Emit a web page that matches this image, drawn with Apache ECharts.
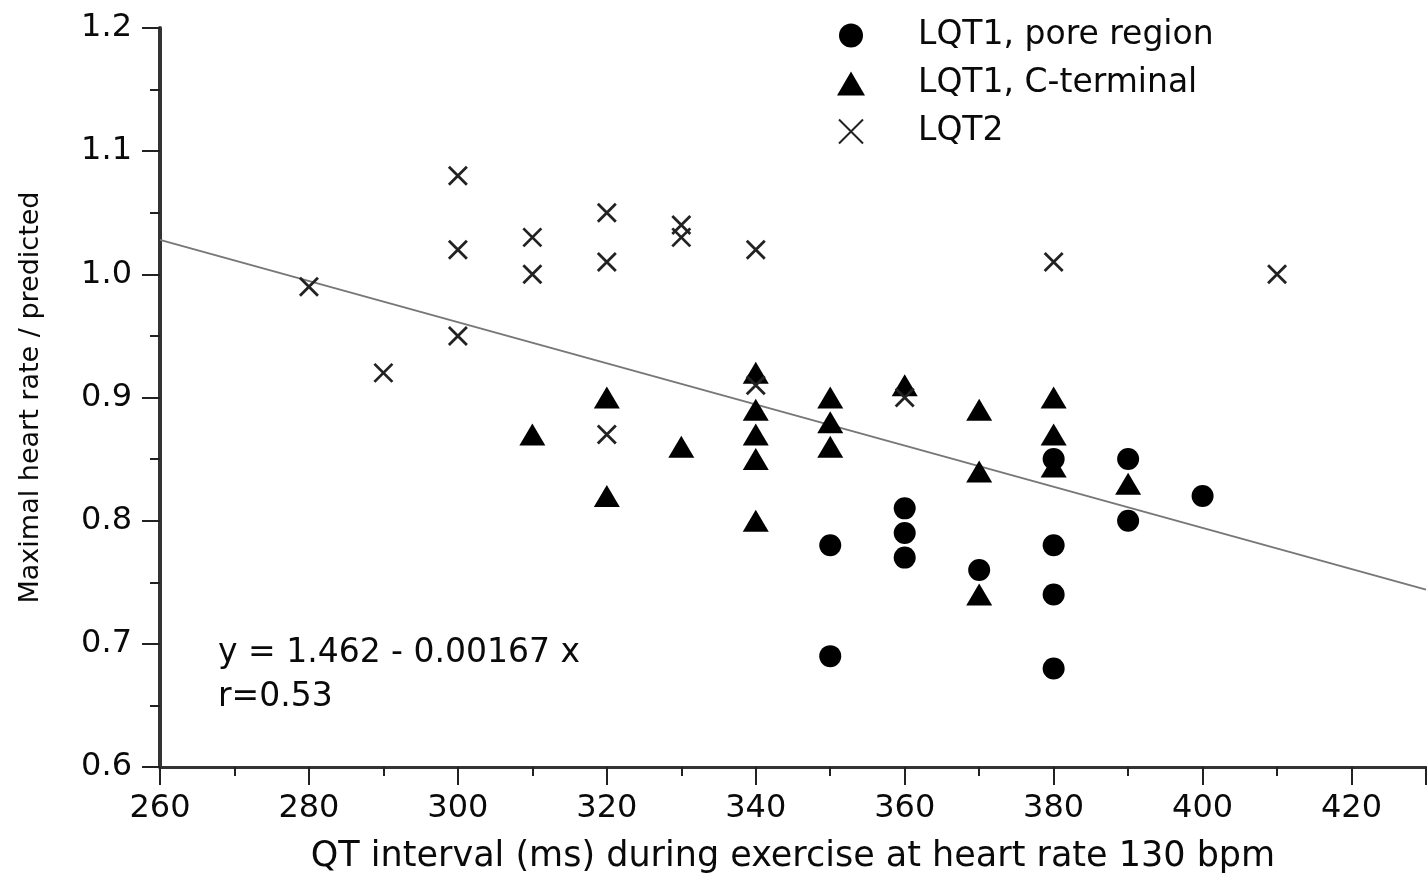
<!DOCTYPE html>
<html>
<head>
<meta charset="utf-8">
<script src="https://cdn.jsdelivr.net/npm/echarts@6/dist/echarts.min.js"></script>
<style>
html,body{margin:0;padding:0;background:#fff;}
#chart{width:1427px;height:879px;}
</style>
</head>
<body>
<div id="chart"></div>
<script>
// ---- data ----
const poreRegion = [
  [350, 0.78], [350, 0.69],
  [360, 0.81], [360, 0.79], [360, 0.77],
  [370, 0.76],
  [380, 0.85], [380, 0.78], [380, 0.74], [380, 0.68],
  [390, 0.85], [390, 0.80],
  [400, 0.82]
];
const cTerminal = [
  [310, 0.87],
  [320, 0.90], [320, 0.82],
  [330, 0.86],
  [340, 0.92], [340, 0.89], [340, 0.87], [340, 0.85], [340, 0.80],
  [350, 0.90], [350, 0.88], [350, 0.86],
  [360, 0.91],
  [370, 0.89], [370, 0.84], [370, 0.74],
  [380, 0.90], [380, 0.87], [380, 0.844],
  [390, 0.83]
];
const lqt2 = [
  [280, 0.99], [290, 0.92],
  [300, 1.08], [300, 1.02], [300, 0.95],
  [310, 1.03], [310, 1.00],
  [320, 1.05], [320, 1.01], [320, 0.87],
  [330, 1.04], [330, 1.03],
  [340, 1.02], [340, 0.91],
  [360, 0.90],
  [380, 1.01],
  [410, 1.00]
];
const fitLine = [[260, 1.028], [430, 0.744]];
const seriesNames = ['LQT1, pore region', 'LQT1, C-terminal', 'LQT2'];
const xTitle = 'QT interval (ms) during exercise at heart rate 130 bpm';
const yTitle = 'Maximal heart rate / predicted';
const equationText = 'y = 1.462 - 0.00167 x';
const rText = 'r=0.53';

const FONT = 'DejaVu Sans';
const INK = '#0a0a0a';
const chart = echarts.init(document.getElementById('chart'), null, {renderer: 'canvas'});

const xPath = 'path://M0,0L10,10M10,0L0,10';

chart.setOption({
  backgroundColor: '#fff',
  animation: false,
  grid: {left: 160, right: 1, top: 28, bottom: 112, containLabel: false},
  xAxis: {
    type: 'value', min: 260, max: 430, interval: 20,
    name: xTitle, nameLocation: 'middle', nameGap: 72,
    nameTextStyle: {fontFamily: FONT, fontSize: 35, color: INK},
    axisLine: {show: true, onZero: false, lineStyle: {color: '#333', width: 3}},
    axisTick: {show: true, inside: false, length: 18, lineStyle: {color: '#222', width: 2}},
    minorTick: {show: true, splitNumber: 2, length: 9, lineStyle: {color: '#222', width: 2}},
    axisLabel: {fontFamily: FONT, fontSize: 32, color: INK, margin: 26, showMaxLabel: false,
      formatter: v => (v > 420 ? '' : String(v))},
    splitLine: {show: false}, minorSplitLine: {show: false}
  },
  yAxis: {
    type: 'value', min: 0.6, max: 1.2, interval: 0.1,
    name: yTitle, nameLocation: 'middle', nameGap: 116, nameRotate: 90,
    nameTextStyle: {fontFamily: FONT, fontSize: 27, color: INK},
    axisLine: {show: true, onZero: false, lineStyle: {color: '#333', width: 4}},
    axisTick: {show: true, inside: false, length: 18, lineStyle: {color: '#222', width: 2}},
    minorTick: {show: true, splitNumber: 2, length: 10, lineStyle: {color: '#222', width: 2}},
    axisLabel: {fontFamily: FONT, fontSize: 32, color: INK, margin: 28,
      formatter: v => v.toFixed(1)},
    splitLine: {show: false}, minorSplitLine: {show: false}
  },
  legend: {
    orient: 'vertical', left: 832, top: 14, itemGap: 15,
    itemWidth: 28, itemHeight: 24,
    textStyle: {fontFamily: FONT, fontSize: 33, color: INK, padding: [0, 0, 0, 48]},
    data: seriesNames
  },
  graphic: [
    {type: 'text', left: 218, top: 637, style: {text: equationText, font: '33px "DejaVu Sans"', fill: INK}},
    {type: 'text', left: 218, top: 681, style: {text: rText, font: '33px "DejaVu Sans"', fill: INK}}
  ],
  series: [
    {
      name: 'fit', type: 'line', data: fitLine, symbol: 'none', silent: true,
      lineStyle: {color: '#777', width: 2}, z: 1
    },
    {
      name: seriesNames[0], type: 'scatter', data: poreRegion,
      symbol: 'circle', symbolSize: 22,
      itemStyle: {color: '#000', opacity: 1}, z: 3
    },
    {
      name: seriesNames[1], type: 'scatter', data: cTerminal,
      symbol: 'triangle', symbolSize: [26, 22],
      itemStyle: {color: '#000', opacity: 1}, z: 3
    },
    {
      name: seriesNames[2], type: 'scatter', data: lqt2,
      symbol: xPath, symbolSize: 18,
      itemStyle: {color: 'rgba(0,0,0,0)', borderColor: '#222', borderWidth: 2.8, opacity: 1}, z: 3
    }
  ]
});
</script>
</body>
</html>
